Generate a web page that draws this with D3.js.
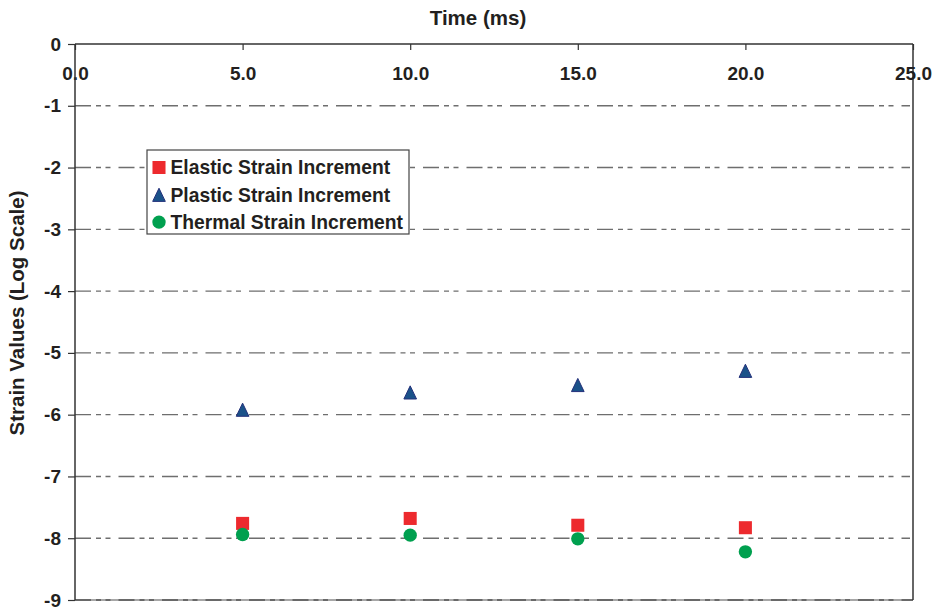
<!DOCTYPE html>
<html>
<head>
<meta charset="utf-8">
<script src="https://cdn.jsdelivr.net/npm/d3@7"></script>
<style>
  html, body { margin: 0; padding: 0; background: #fff; }
  svg text { font-family: "Liberation Sans", Arial, sans-serif; font-weight: bold; fill: #231f20; }
</style>
</head>
<body>
<svg id="chart" width="939" height="607"></svg>
<script>
// Time of each sample (ms)
const times = [5, 10, 15, 20];
// log10 strain increments at each time
const elastic = [-7.76, -7.68, -7.79, -7.83];
const plastic = [-5.92, -5.64, -5.52, -5.29];
const thermal = [-7.94, -7.95, -8.01, -8.22];

const xTicks = [0, 5, 10, 15, 20, 25];
const yTicks = [0, -1, -2, -3, -4, -5, -6, -7, -8, -9];
const seriesNames = ["Elastic Strain Increment", "Plastic Strain Increment", "Thermal Strain Increment"];

(function () {
const svg = d3.select("#chart");
const plotL = 75, plotR = 913, plotT = 44, plotB = 600;

const x = d3.scaleLinear().domain([0, 25]).range([plotL, plotR]);
const y = d3.scaleLinear().domain([0, -9]).range([plotT, plotB]);

// Dash-dot gridlines
const grid = svg.append("g");
grid.selectAll("line.grid")
  .data(yTicks.filter(v => v !== 0 && v !== -9))
  .join("line")
  .attr("x1", plotL).attr("x2", plotR - 3)
  .attr("y1", d => y(d)).attr("y2", d => y(d))
  .attr("stroke", "#6e6e6e").attr("stroke-width", 1.4)
  .attr("stroke-dasharray", "16,5,5,4.5,5,8");

// Bottom boundary at -9
grid.append("line")
  .attr("x1", plotL).attr("x2", plotR)
  .attr("y1", y(-9)).attr("y2", y(-9))
  .attr("stroke", "#8a8a8a").attr("stroke-width", 1.6);
grid.append("line")
  .attr("x1", plotL).attr("x2", plotR)
  .attr("y1", y(-9)).attr("y2", y(-9))
  .attr("stroke", "#555").attr("stroke-width", 1.6)
  .attr("stroke-dasharray", "16,5,5,4.5,5,8");

// Right border
svg.append("line")
  .attr("x1", plotR).attr("x2", plotR)
  .attr("y1", plotT).attr("y2", plotB)
  .attr("stroke", "#333").attr("stroke-width", 1.5);

const fontCss = "Liberation Sans, Arial, sans-serif";

// Top x axis with inward ticks
const xAxis = d3.axisTop(x).tickValues(xTicks).tickSize(-6).tickFormat(d => d.toFixed(1));
const gx = svg.append("g").attr("transform", `translate(0,${plotT})`).call(xAxis);
gx.select(".domain").attr("stroke", "#333").attr("stroke-width", 1.5).attr("d", `M${plotL},0H${plotR}`);
gx.selectAll(".tick line").attr("stroke", "#333").attr("stroke-width", 1.2);
gx.selectAll(".tick text")
  .attr("y", 36).attr("dy", 0)
  .style("font-size", "19px").style("font-family", fontCss)
  .style("font-weight", "bold").attr("fill", "#231f20");

// Left y axis with outward ticks (plain hyphen for negatives)
const yAxis = d3.axisLeft(y).tickValues(yTicks).tickSize(7).tickPadding(7).tickFormat(d => String(d));
const gy = svg.append("g").attr("transform", `translate(${plotL},0)`).call(yAxis);
gy.select(".domain").attr("stroke", "#333").attr("stroke-width", 1.5).attr("d", `M0,${plotT}V${plotB}`);
gy.selectAll(".tick line").attr("stroke", "#333").attr("stroke-width", 1.2);
gy.selectAll(".tick text")
  .style("font-size", "19px").style("font-family", fontCss)
  .style("font-weight", "bold").attr("fill", "#231f20");

// Axis titles
svg.append("text")
  .attr("x", 478).attr("y", 25)
  .attr("text-anchor", "middle")
  .style("font-size", "20.5px")
  .text("Time (ms)");
svg.append("text")
  .attr("transform", "translate(24,313) rotate(-90)")
  .attr("text-anchor", "middle")
  .style("font-size", "20.5px")
  .text("Strain Values (Log Scale)");

// Marker shapes
const sq = d3.symbol().type(d3.symbolSquare).size(170);
const tallTriangle = {
  draw(ctx, size) {
    const w = Math.sqrt(size) * 0.5, h = Math.sqrt(size) * 0.52;
    ctx.moveTo(0, -h);
    ctx.lineTo(w, h);
    ctx.lineTo(-w, h);
    ctx.closePath();
  }
};
const tri = d3.symbol().type(tallTriangle).size(160);
const circ = d3.symbol().type(d3.symbolCircle).size(140);

const colors = { elastic: "#ed2a2e", plastic: "#1a5289", thermal: "#00a04f" };

function drawSeries(values, gen, fill, stroke) {
  svg.append("g").selectAll("path")
    .data(values.map((v, i) => [times[i], v]))
    .join("path")
    .attr("d", gen)
    .attr("transform", d => `translate(${x(d[0])},${y(d[1])})`)
    .attr("fill", fill)
    .attr("stroke", stroke || "none")
    .attr("stroke-width", stroke ? 1 : 0);
}
drawSeries(elastic, sq, colors.elastic, null);
drawSeries(thermal, circ, colors.thermal, null);
drawSeries(plastic, tri, colors.plastic, "#23307a");

// Legend
const lg = svg.append("g");
lg.append("rect")
  .attr("x", 147).attr("y", 150).attr("width", 262).attr("height", 84)
  .attr("fill", "#fff").attr("stroke", "#444").attr("stroke-width", 1.2);
const legendRows = [
  { name: seriesNames[0], gen: sq, fill: colors.elastic, stroke: null },
  { name: seriesNames[1], gen: tri, fill: colors.plastic, stroke: "#23307a" },
  { name: seriesNames[2], gen: circ, fill: colors.thermal, stroke: null }
];
legendRows.forEach((r, i) => {
  const cy = 167.5 + i * 27.3;
  lg.append("path").attr("d", r.gen)
    .attr("transform", `translate(159,${cy})`)
    .attr("fill", r.fill)
    .attr("stroke", r.stroke || "none");
  lg.append("text")
    .attr("x", 170.5).attr("y", cy + 6.8)
    .style("font-size", "19.3px")
    .text(r.name);
});
})();
</script>
</body>
</html>
